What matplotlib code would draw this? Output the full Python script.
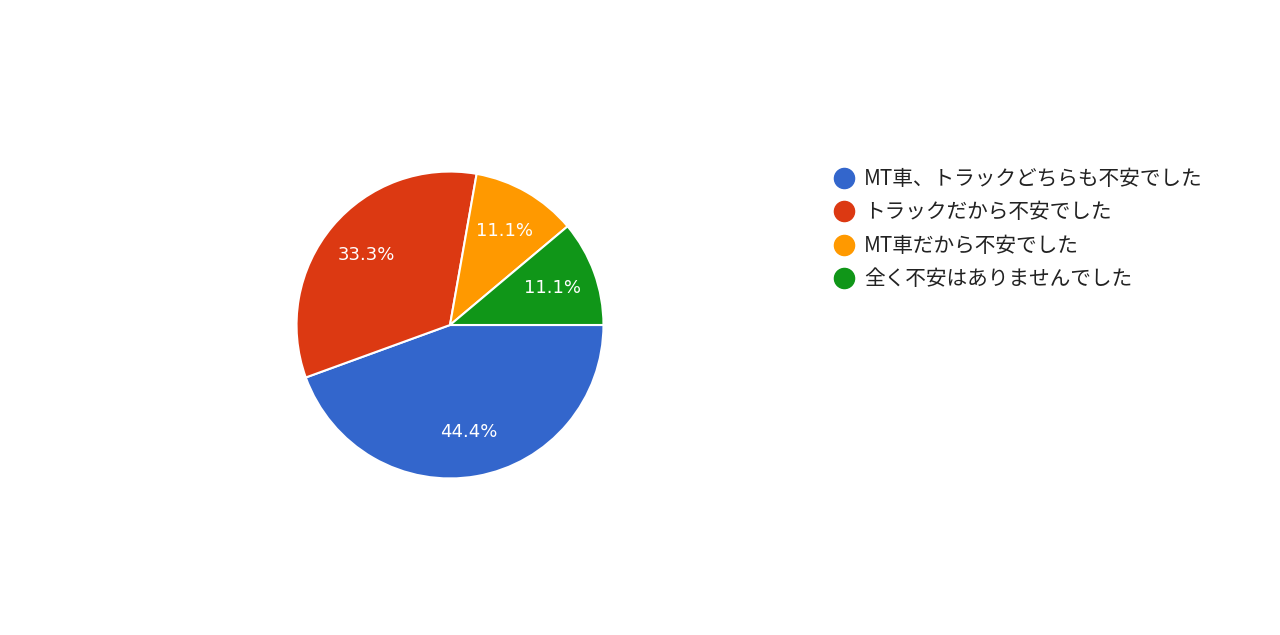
import matplotlib
matplotlib.use("Agg")
import matplotlib.pyplot as plt
from matplotlib.lines import Line2D

# survey answers, in drawing order (clockwise from 3 o'clock)
labels = ["MT車、トラックどちらも不安でした",
          "トラックだから不安でした",
          "MT車だから不安でした",
          "全く不安はありませんでした"]
counts = [4, 3, 1, 1]
colors = ["#3366CC", "#DC3912", "#FF9900", "#109618"]

plt.rcParams['font.family'] = ['Noto Sans CJK JP', 'DejaVu Sans']

fig = plt.figure(figsize=(12.8, 6.35), dpi=100)
ax = fig.add_axes([295 / 1280, 155 / 635, 310 / 1280, 310 / 635])

wedges, texts, autotexts = ax.pie(
    counts, colors=colors, startangle=0, counterclock=False,
    autopct="%.1f%%", pctdistance=0.71,
    wedgeprops=dict(edgecolor="white", linewidth=1.5))
for t in autotexts:
    t.set_color("white")
    t.set_fontsize(13)
    t.set_family(["DejaVu Sans"])
ax.set_xlim(-1.01, 1.01)
ax.set_ylim(-1.01, 1.01)
ax.set_aspect("equal")

handles = [Line2D([], [], marker="o", linestyle="none", markersize=14.5,
                  markerfacecolor=c, markeredgecolor=c) for c in colors]
fig.legend(handles, labels, loc="upper left",
           bbox_to_anchor=(834 / 1280, 1 - 168 / 635),
           frameon=False, fontsize=14.9, handlelength=1.0,
           handletextpad=0.45, labelspacing=0.55, borderpad=0,
           borderaxespad=0, labelcolor="#222222")

fig.savefig("out.png", dpi=100)
